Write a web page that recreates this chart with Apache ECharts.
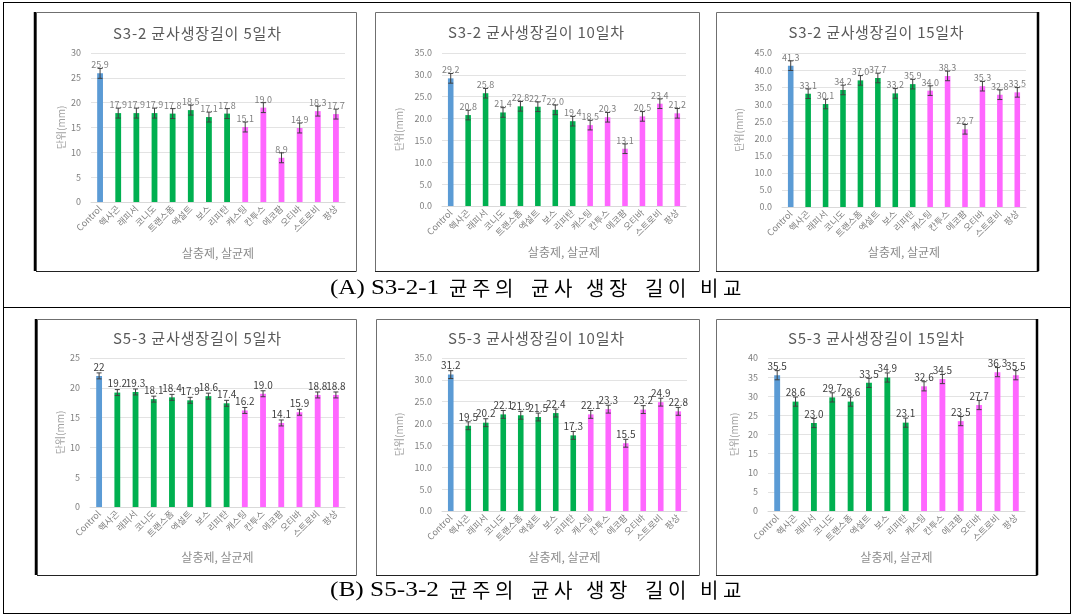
<!DOCTYPE html>
<html>
<head>
<meta charset="utf-8">
<script src="https://cdn.jsdelivr.net/npm/echarts@6/dist/echarts.min.js"></script>
<style>
html,body{margin:0;padding:0;background:#fff;}
#main{width:1073px;height:616px;}
</style>
</head>
<body>
<div id="main"></div>
<script>
const categories = ['Control','헥사곤','래피서','코니도','트랜스폼','엑설트','보스','리피탄','캐스팅','칸투스','에코팜','오티바','스트로비','팡상'];
const categoryGroup = ['control','insect','insect','insect','insect','insect','insect','insect','fungi','fungi','fungi','fungi','fungi','fungi'];

const valuesA5  = [25.9, 17.9, 17.9, 17.9, 17.8, 18.5, 17.1, 17.8, 15.1, 19.0, 8.9, 14.9, 18.3, 17.7];
const valuesA10 = [29.2, 20.8, 25.8, 21.4, 22.8, 22.7, 22.0, 19.4, 18.5, 20.3, 13.1, 20.5, 23.4, 21.2];
const valuesA15 = [41.3, 33.1, 30.1, 34.2, 37.0, 37.7, 33.2, 35.9, 34.0, 38.3, 22.7, 35.3, 32.8, 33.5];
const valuesB5  = [22, 19.2, 19.3, 18.1, 18.4, 17.9, 18.6, 17.4, 16.2, 19.0, 14.1, 15.9, 18.8, 18.8];
const valuesB10 = [31.2, 19.5, 20.2, 22.1, 21.9, 21.5, 22.4, 17.3, 22.1, 23.3, 15.5, 23.2, 24.9, 22.8];
const valuesB15 = [35.5, 28.6, 23.0, 29.7, 28.6, 33.5, 34.9, 23.1, 32.6, 34.5, 23.5, 27.7, 36.3, 35.5];
const labelsB5  = ['22','19.2','19.3','18.1','18.4','17.9','18.6','17.4','16.2','19.0','14.1','15.9','18.8','18.8'];

const errA5  = [1.0, 1.0, 1.0, 1.0, 1.0, 1.0, 1.0, 1.0, 1.0, 1.0, 1.0, 1.0, 1.0, 1.0];
const errA10 = [1.1, 1.1, 1.1, 1.1, 1.1, 1.1, 1.1, 1.1, 1.1, 1.1, 1.1, 1.1, 1.1, 1.1];
const errA15 = [1.4, 1.4, 1.4, 1.4, 1.4, 1.4, 1.4, 1.4, 1.4, 1.4, 1.4, 1.4, 1.4, 1.4];
const errB5  = [0.5, 0.5, 0.5, 0.5, 0.5, 0.5, 0.5, 0.5, 0.5, 0.5, 0.5, 0.5, 0.5, 0.5];
const errB10 = [0.9, 0.9, 0.9, 0.9, 0.9, 0.9, 0.9, 0.9, 0.9, 0.9, 0.9, 0.9, 0.9, 0.9];
const errB15 = [1.2, 1.2, 1.2, 1.2, 1.2, 1.2, 1.2, 1.2, 1.2, 1.2, 1.2, 1.2, 1.2, 1.2];

const yName = '단위(mm)';
const xName = '살충제, 살균제';
const captionA = ['(A) S3-2-1','균주의','균사','생장','길이','비교'];
const captionB = ['(B) S5-3-2','균주의','균사','생장','길이','비교'];

const groupColor = {control:'#5b9bd5', insect:'#00b050', fungi:'#ff66ff'};
const FONT = '"Noto Sans CJK KR", sans-serif';

const charts = [
  {title:'S3-2 균사생장길이 5일차', values:valuesA5, errors:errA5, max:30, dec:0,
   grid:{left:91, top:53, width:254, height:149}, tx:197, ty:33, tw:168, yGap:25, xGap:45, lc:'#7f7f7f', lf:9},
  {title:'S3-2 균사생장길이 10일차', values:valuesA10, errors:errA10, max:35, dec:1,
   grid:{left:442, top:53, width:244, height:153}, tx:536, ty:32, tw:176, yGap:38, xGap:40, lc:'#7f7f7f', lf:9},
  {title:'S3-2 균사생장길이 15일차', values:valuesA15, errors:errA15, max:45, dec:1,
   grid:{left:782, top:53, width:244, height:154}, tx:876, ty:32, tw:175, yGap:38, xGap:39, lc:'#7f7f7f', lf:9},
  {title:'S5-3 균사생장길이 5일차', values:valuesB5, errors:errB5, max:25, dec:0, labels:labelsB5,
   grid:{left:90, top:358, width:255, height:149}, tx:197, ty:338, tw:168, yGap:25, xGap:44, lc:'#404040', lf:10},
  {title:'S5-3 균사생장길이 10일차', values:valuesB10, errors:errB10, max:35, dec:1,
   grid:{left:442, top:358, width:245, height:153}, tx:536, ty:338, tw:176, yGap:38, xGap:40, lc:'#404040', lf:10},
  {title:'S5-3 균사생장길이 15일차', values:valuesB15, errors:errB15, max:40, dec:0,
   grid:{left:768, top:358, width:257, height:153}, tx:876, ty:338, tw:176, yGap:29, xGap:40, lc:'#404040', lf:10}
];

const grids = [], xAxes = [], yAxes = [], series = [], graphics = [];
const measureCtx = document.createElement('canvas').getContext('2d');

// text with letter spacing, centred on cx, stretched to a target width
function spacedText(text, cx, cy, font, targetW, color) {
  measureCtx.font = font;
  const chars = Array.from(text);
  const widths = chars.map(ch => measureCtx.measureText(ch).width);
  const natural = widths.reduce((a, b) => a + b, 0);
  const gap = chars.length > 1 ? Math.max(0, (targetW - natural) / (chars.length - 1)) : 0;
  let x = cx - (natural + gap * (chars.length - 1)) / 2;
  chars.forEach((ch, i) => {
    graphics.push({type:'text', z:10, style:{text:ch, x:x, y:cy, textAlign:'left', textVerticalAlign:'middle', font:font, fill:color}});
    x += widths[i] + gap;
  });
}

charts.forEach((c, k) => {
  grids.push(Object.assign({containLabel:false}, c.grid));
  xAxes.push({
    type:'category', gridIndex:k, data:categories,
    name:xName, nameLocation:'middle', nameGap:c.xGap,
    nameTextStyle:{color:'#8c8c8c', fontSize:12, fontFamily:FONT},
    axisLine:{lineStyle:{color:'#d9d9d9'}}, axisTick:{show:false},
    axisLabel:{interval:0, rotate:45, fontSize:9, color:'#7f7f7f', fontFamily:FONT, margin:5}
  });
  yAxes.push({
    type:'value', gridIndex:k, min:0, max:c.max, interval:5,
    name:yName, nameLocation:'middle', nameGap:c.yGap,
    nameTextStyle:{color:'#a0a0a0', fontSize:10, fontFamily:FONT},
    axisLine:{show:false}, axisTick:{show:false},
    splitLine:{lineStyle:{color:'#e3e3e3'}},
    axisLabel:{fontSize:9, color:'#7f7f7f', fontFamily:FONT, margin:10,
      formatter: v => v.toFixed(c.dec)}
  });
  series.push({
    type:'bar', xAxisIndex:k, yAxisIndex:k, barWidth:'32%',
    data: c.values.map((v, i) => ({value:v, itemStyle:{color:groupColor[categoryGroup[i]]}})),
    label:{show:true, position:'top', distance:4, fontSize:c.lf, color:c.lc, fontFamily:FONT,
      formatter: p => c.labels ? c.labels[p.dataIndex] : Number(p.value).toFixed(1)},
    silent:true, animation:false
  });
  series.push({
    type:'custom', xAxisIndex:k, yAxisIndex:k, z:5, animation:false, silent:true,
    data: c.values.map((v, i) => [i, v, c.errors[i]]),
    renderItem: (params, api) => {
      const i = api.value(0), v = api.value(1), e = api.value(2);
      const hi = api.coord([i, v + e]), lo = api.coord([i, v - e]);
      const w = 2.5;
      const st = {stroke:'#404040', lineWidth:1};
      return {type:'group', children:[
        {type:'line', shape:{x1:hi[0], y1:hi[1], x2:lo[0], y2:lo[1]}, style:st},
        {type:'line', shape:{x1:hi[0]-w, y1:hi[1], x2:hi[0]+w, y2:hi[1]}, style:st},
        {type:'line', shape:{x1:lo[0]-w, y1:lo[1], x2:lo[0]+w, y2:lo[1]}, style:st}
      ]};
    }
  });
  spacedText(c.title, c.tx, c.ty, '15px ' + FONT, c.tw, '#595959');
});

// chart frames
const frames = [
  [36,12,320,259],[375,12,324,259],[716,12,322,259],
  [37,319,319,256],[376,319,323,256],[716,319,321,256]
];
frames.forEach(f => graphics.push({type:'rect', z:1, shape:{x:f[0]+0.5, y:f[1]+0.5, width:f[2], height:f[3]},
  style:{fill:'none', stroke:'#6f6f6f', lineWidth:1}}));
[[35,12,35,271],[36,319,36,575],[1038,12,1038,271],[1037,319,1037,575]].forEach(l => graphics.push({type:'line', z:2,
  shape:{x1:l[0], y1:l[1], x2:l[2], y2:l[3]}, style:{stroke:'#000', lineWidth:2.5}}));
[[36,271,356,271],[375,271,699,271],[716,271,1038,271],[37,575,356,575],[376,575,699,575],[716,575,1037,575]].forEach(l =>
  graphics.push({type:'line', z:2, shape:{x1:l[0], y1:l[1]+0.5, x2:l[2], y2:l[3]+0.5}, style:{stroke:'#222', lineWidth:1}}));

// outer table lines
[[3,2.5,1071,2.5],[3,307.5,1071,307.5],[3,613.5,1071,613.5],[3.5,2,3.5,614],[1070.5,2,1070.5,614]].forEach(l =>
  graphics.push({type:'line', z:2, shape:{x1:l[0], y1:l[1], x2:l[2], y2:l[3]}, style:{stroke:'#000', lineWidth:1}}));

// captions
const capLatinFont = '22px "Liberation Serif", serif';
const capKoFont = '20px "Noto Sans CJK KR", sans-serif';
const capWordX = [449, 531, 586, 645, 700];
const capPitch = 23;
function addCaption(words, y) {
  measureCtx.font = capLatinFont;
  const w = measureCtx.measureText(words[0]).width;
  const sx = Math.min(1.2, 109 / w);
  graphics.push({type:'text', z:10, x:330, y:y, scaleX:sx, style:{text:words[0], x:0, y:0,
    textAlign:'left', textVerticalAlign:'middle', font:capLatinFont, fill:'#000'}});
  words.slice(1).forEach((word, wi) => {
    Array.from(word).forEach((ch, ci) => graphics.push({type:'text', z:10, style:{text:ch,
      x:capWordX[wi] + ci * capPitch, y:y, textAlign:'left', textVerticalAlign:'middle', font:capKoFont, fill:'#000'}}));
  });
}
addCaption(captionA, 288);
addCaption(captionB, 590);

const chart = echarts.init(document.getElementById('main'), null, {renderer:'canvas'});
chart.setOption({
  animation:false,
  backgroundColor:'#fff',
  grid:grids, xAxis:xAxes, yAxis:yAxes, series:series,
  graphic:{elements:graphics}
});
</script>
</body>
</html>
